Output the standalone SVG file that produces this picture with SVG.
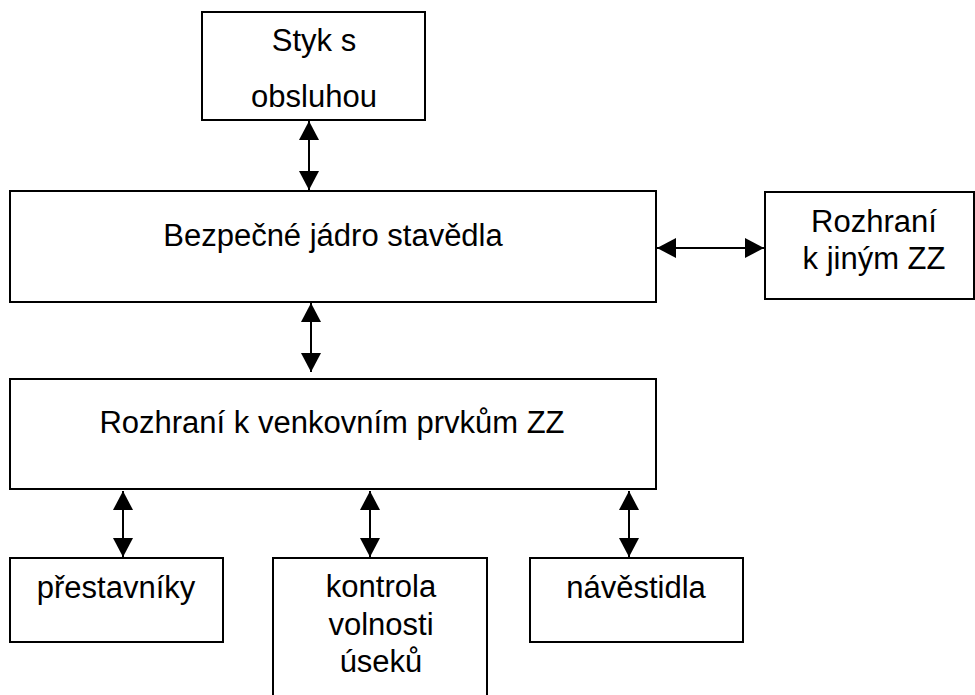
<svg xmlns="http://www.w3.org/2000/svg" width="975" height="695" viewBox="0 0 975 695">
  <style>
    .box { fill: #fff; stroke: #000; stroke-width: 2; }
    .lbl { font-family: "Liberation Sans", Arial, sans-serif; font-size: 31px; fill: #000; text-anchor: middle; }
    .link { stroke: #000; stroke-width: 2; fill: none; marker-start: url(#head); marker-end: url(#head); }
  </style>
  <defs>
    <marker id="head" viewBox="0 0 19 20" markerWidth="19" markerHeight="20" refX="19" refY="10" orient="auto-start-reverse" markerUnits="userSpaceOnUse">
      <path d="M0,0 L19,10 L0,20 z" fill="#000"/>
    </marker>
  </defs>
  <rect width="975" height="695" fill="#fff"/>

  <g id="operator">
    <rect class="box" x="202" y="12" width="223" height="108"/>
    <text class="lbl" x="314" y="51">Styk s</text>
    <text class="lbl" x="314" y="107">obsluhou</text>
  </g>

  <g id="core">
    <rect class="box" x="10" y="191" width="646" height="111"/>
    <text class="lbl" x="333" y="246">Bezpečné jádro stavědla</text>
  </g>

  <g id="other-systems">
    <rect class="box" x="765" y="192" width="209" height="107"/>
    <text class="lbl" x="874" y="232">Rozhraní</text>
    <text class="lbl" x="874" y="269">k jiným ZZ</text>
  </g>

  <g id="field-interface">
    <rect class="box" x="10" y="379" width="646" height="110"/>
    <text class="lbl" x="332" y="433">Rozhraní k venkovním prvkům ZZ</text>
  </g>

  <g id="point-machines">
    <rect class="box" x="10" y="558" width="213" height="84"/>
    <text class="lbl" x="116" y="598">přestavníky</text>
  </g>

  <g id="track-vacancy">
    <rect class="box" x="273" y="558" width="214" height="150"/>
    <text class="lbl" x="381" y="597">kontrola</text>
    <text class="lbl" x="381" y="635">volnosti</text>
    <text class="lbl" x="381" y="672">úseků</text>
  </g>

  <g id="signals">
    <rect class="box" x="530" y="558" width="213" height="84"/>
    <text class="lbl" x="636" y="598">návěstidla</text>
  </g>

  <g id="connectors">
    <line class="link" x1="309" y1="121" x2="309" y2="190"/>
    <line class="link" x1="311" y1="303" x2="311" y2="372"/>
    <line class="link" x1="657" y1="248" x2="764" y2="248"/>
    <line class="link" x1="123" y1="491" x2="123" y2="557"/>
    <line class="link" x1="370" y1="491" x2="370" y2="557"/>
    <line class="link" x1="629" y1="491" x2="629" y2="557"/>
  </g>
</svg>
